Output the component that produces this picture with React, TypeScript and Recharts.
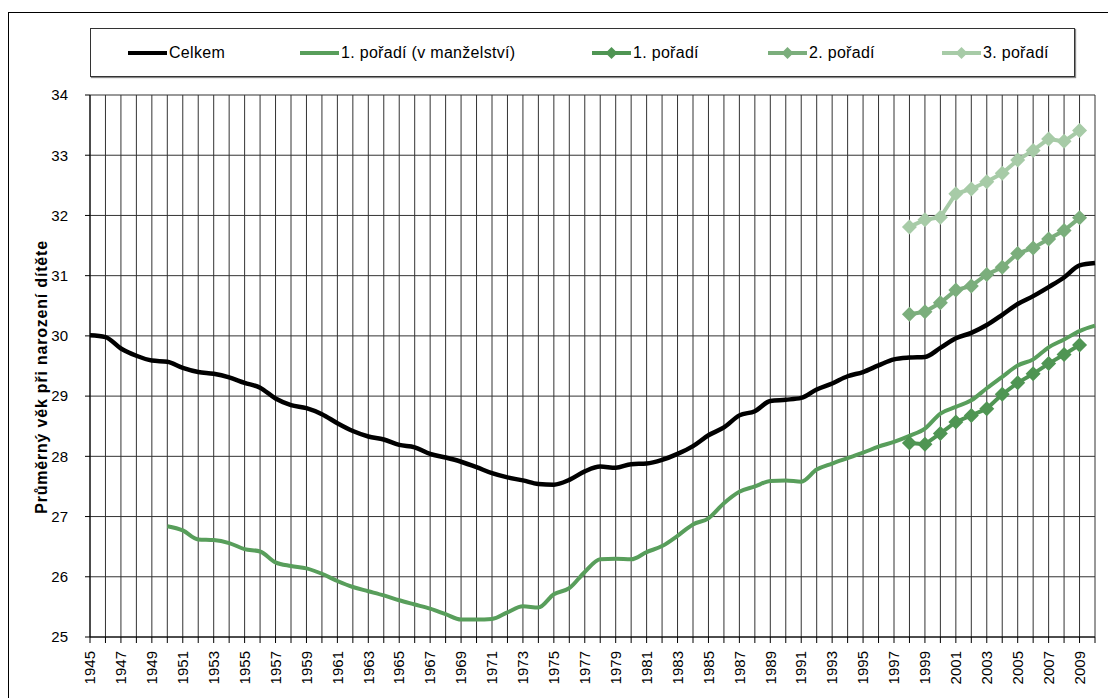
import React from "react"
import {
  LineChart,
  Line,
  XAxis,
  YAxis,
  CartesianGrid,
  Label,
} from "recharts"

const years = [
  1945, 1946, 1947, 1948, 1949, 1950, 1951, 1952, 1953, 1954, 1955,
  1956, 1957, 1958, 1959, 1960, 1961, 1962, 1963, 1964, 1965, 1966,
  1967, 1968, 1969, 1970, 1971, 1972, 1973, 1974, 1975, 1976, 1977,
  1978, 1979, 1980, 1981, 1982, 1983, 1984, 1985, 1986, 1987, 1988,
  1989, 1990, 1991, 1992, 1993, 1994, 1995, 1996, 1997, 1998, 1999,
  2000, 2001, 2002, 2003, 2004, 2005, 2006, 2007, 2008, 2009, 2010,
]

// Celkem, 1945-2010
const celkem = [
  30.01, 29.98, 29.79, 29.67, 29.59, 29.57, 29.47, 29.4, 29.37, 29.31, 29.22,
  29.14, 28.96, 28.85, 28.8, 28.7, 28.55, 28.42, 28.33, 28.28, 28.19, 28.15,
  28.04, 27.98, 27.91, 27.82, 27.72, 27.65, 27.6, 27.54, 27.53, 27.61, 27.75,
  27.83, 27.81, 27.87, 27.88, 27.94, 28.04, 28.17, 28.35, 28.48, 28.68, 28.75,
  28.92, 28.94, 28.97, 29.11, 29.21, 29.33, 29.4, 29.51, 29.61, 29.64, 29.65,
  29.8, 29.96, 30.05, 30.18, 30.35, 30.53, 30.66, 30.81, 30.97, 31.17, 31.21,
]

// 1. pořadí (v manželství), 1945-2010
const manzelstvi = [
  null, null, null, null, null, 26.84, 26.77, 26.62, 26.61, 26.56, 26.46,
  26.42, 26.24, 26.18, 26.14, 26.05, 25.93, 25.83, 25.76, 25.69, 25.61, 25.54,
  25.47, 25.38, 25.29, 25.29, 25.3, 25.41, 25.51, 25.49, 25.71, 25.81, 26.08,
  26.29, 26.3, 26.29, 26.41, 26.51, 26.68, 26.87, 26.97, 27.22, 27.41, 27.5,
  27.59, 27.6, 27.58, 27.78, 27.88, 27.97, 28.06, 28.16, 28.24, 28.34, 28.46,
  28.71, 28.82, 28.93, 29.13, 29.32, 29.51, 29.61, 29.81, 29.94, 30.08, 30.17,
]

// order-specific series, 1998-2009
const orderYears = [1998, 1999, 2000, 2001, 2002, 2003, 2004, 2005, 2006, 2007, 2008, 2009]
const poradi1 = [28.22, 28.2, 28.38, 28.57, 28.68, 28.79, 29.03, 29.22, 29.37, 29.54, 29.69, 29.85]
const poradi2 = [30.36, 30.4, 30.55, 30.76, 30.83, 31.02, 31.14, 31.37, 31.46, 31.61, 31.75, 31.96]
const poradi3 = [31.81, 31.93, 31.97, 32.36, 32.44, 32.56, 32.7, 32.92, 33.08, 33.27, 33.23, 33.41]

const yTicks = [25, 26, 27, 28, 29, 30, 31, 32, 33, 34]
const yTitle = "Průměrný věk při narození dítěte"

const byOrder = (arr: number[], y: number) => {
  const i = orderYears.indexOf(y)
  return i >= 0 ? arr[i] : null
}

const data = years.map((y, i) => ({
  year: y,
  celkem: celkem[i],
  manzelstvi: manzelstvi[i],
  p1: byOrder(poradi1, y),
  p2: byOrder(poradi2, y),
  p3: byOrder(poradi3, y),
}))

const series = [
  { key: "celkem", name: "Celkem", color: "#000000", diamond: false, smooth: true },
  { key: "manzelstvi", name: "1. pořadí (v manželství)", color: "#589E5B", diamond: false, smooth: true },
  { key: "p1", name: "1. pořadí", color: "#4F9553", diamond: true, smooth: false },
  { key: "p2", name: "2. pořadí", color: "#7BAE7C", diamond: true, smooth: false },
  { key: "p3", name: "3. pořadí", color: "#A7CBA7", diamond: true, smooth: false },
]

// legend item x offsets inside the legend box
const legendX = [37, 209, 501, 677, 851]

const font = "'Liberation Sans', Arial, sans-serif"

function diamondDot(color: string) {
  return (props: any) => {
    const { cx, cy, index } = props
    if (cx == null || cy == null || props.value == null) return <g key={index} />
    const r = 7.5
    return (
      <polygon
        key={index}
        points={`${cx},${cy - r} ${cx + r},${cy} ${cx},${cy + r} ${cx - r},${cy}`}
        fill={color}
      />
    )
  }
}

function XTick(props: any) {
  const { x, y, payload } = props
  if (payload.value % 2 === 0) return <g />
  return (
    <text
      x={x}
      y={y}
      transform={`rotate(-90, ${x}, ${y})`}
      textAnchor="end"
      dy="0.35em"
      fontSize={15}
      fontFamily={font}
      fill="#000"
    >
      {payload.value}
    </text>
  )
}

function YTitle(props: any) {
  const vb = props.viewBox || { x: 0, y: 82, width: 81, height: 542 }
  const x = vb.x + 32
  const y = vb.y + vb.height / 2 + 11
  return (
    <text
      x={x}
      y={y}
      transform={`rotate(-90, ${x}, ${y})`}
      textAnchor="middle"
      dy="0.35em"
      fontSize={16}
      letterSpacing={0.8}
      fontWeight="bold"
      fontFamily={font}
      fill="#000"
    >
      {yTitle}
    </text>
  )
}

function LegendBox() {
  return (
    <div
      style={{
        position: "absolute",
        left: 81,
        top: 15,
        width: 983,
        height: 47,
        border: "1px solid #333",
        boxShadow: "1px 1px 1px #888",
        background: "#fff",
        fontFamily: font,
        fontSize: 16,
        letterSpacing: 0.3,
      }}
    >
      {series.map((s, i) => (
        <div
          key={s.key}
          style={{
            position: "absolute",
            left: legendX[i],
            top: 0,
            height: 47,
            display: "flex",
            alignItems: "center",
            whiteSpace: "nowrap",
          }}
        >
          <svg width={39} height={16} style={{ marginRight: 2 }}>
            <line x1={0} y1={8} x2={39} y2={8} stroke={s.color} strokeWidth={4} />
            {s.diamond && <polygon points="19.5,2 25.5,8 19.5,14 13.5,8" fill={s.color} />}
          </svg>
          <span>{s.name}</span>
        </div>
      ))}
    </div>
  )
}

export default function App() {
  return (
    <div
      style={{
        position: "relative",
        marginTop: 4,
        width: 1100,
        height: 700,
        border: "1px solid #000",
        background: "#fff",
      }}
    >
      <LineChart
        width={1100}
        height={700}
        data={data}
        margin={{ top: 82, right: 14, bottom: 16, left: 0 }}
      >
        <CartesianGrid stroke="#333" strokeWidth={1} />
        <XAxis
          dataKey="year"
          interval={0}
          tick={<XTick />}
          tickSize={6}
          tickMargin={8}
          height={60}
          axisLine={{ stroke: "#000" }}
          tickLine={{ stroke: "#000" }}
        />
        <YAxis
          domain={[25, 34]}
          ticks={yTicks}
          width={81}
          tickSize={5}
          tickMargin={17}
          tick={{ fontSize: 15, fontFamily: font, fill: "#000" }}
          axisLine={{ stroke: "#000" }}
          tickLine={{ stroke: "#000" }}
        >
          <Label content={<YTitle />} />
        </YAxis>
        {series.map((s) => (
          <Line
            key={s.key}
            dataKey={s.key}
            name={s.name}
            type={s.smooth ? "monotone" : "linear"}
            stroke={s.color}
            strokeWidth={s.key === "celkem" ? 4.5 : 4}
            dot={s.diamond ? diamondDot(s.color) : false}
            activeDot={false}
            connectNulls={false}
            isAnimationActive={false}
          />
        ))}
      </LineChart>
      <LegendBox />
    </div>
  )
}
